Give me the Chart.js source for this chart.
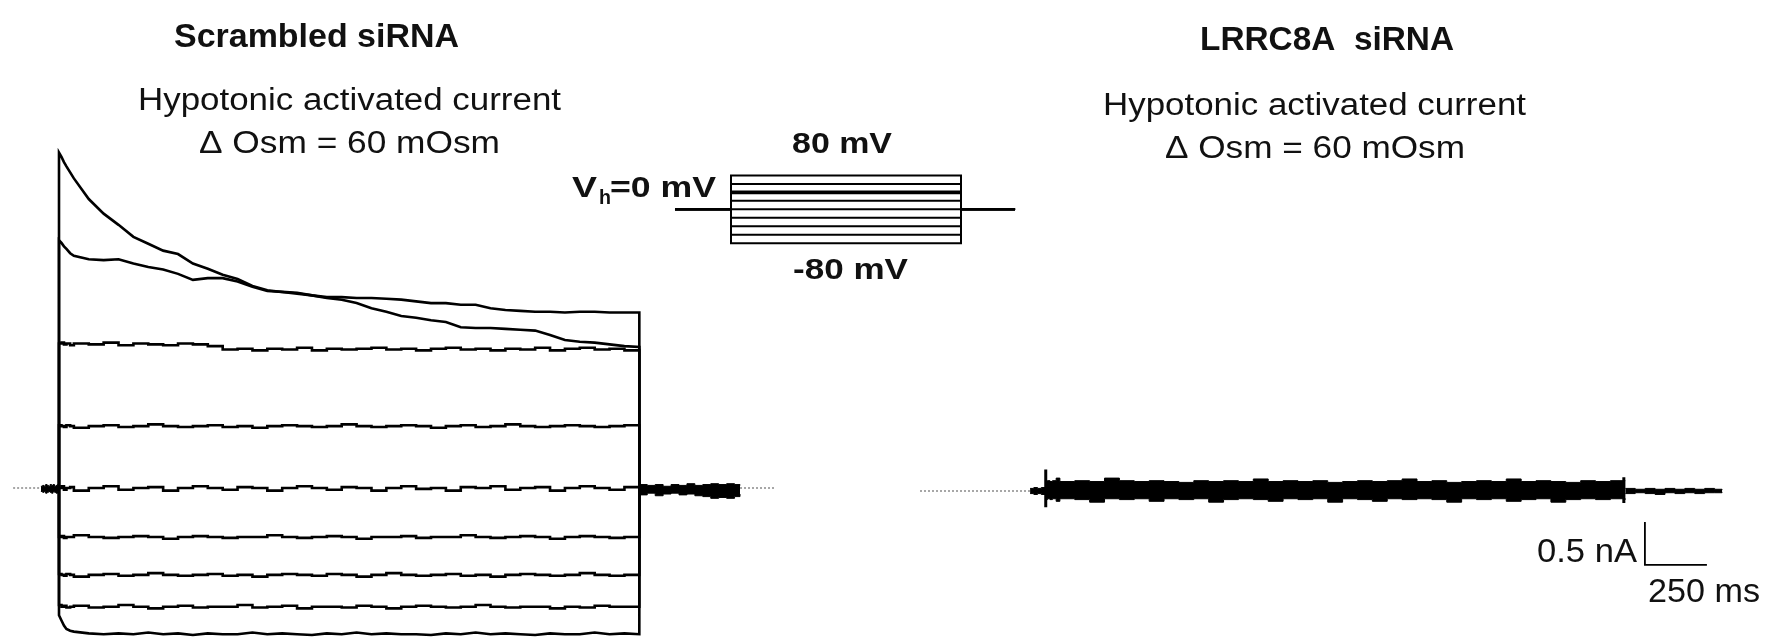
<!DOCTYPE html>
<html><head><meta charset="utf-8">
<script src="https://cdn.jsdelivr.net/npm/chart.js@4.4.1/dist/chart.umd.min.js"></script>
<style>html,body{margin:0;padding:0;background:#fff;}canvas{display:block;}</style>
</head><body><canvas id="c" width="1767" height="638"></canvas>
<script>
// ---------- DATA (time in ms, current in nA, voltage in mV) ----------
const sweepVoltages = [80, 60, 40, 20, 0, -20, -40, -60, -80];
const stepTimes = [0,10,20,30,45,60,120,180,240,300,360,420,480,540,600,660,720,780,840,900,960,1020,1080,1140,1200,1260,1320,1380,1440,1500,1560,1620,1680,1740,1800,1860,1920,1980,2040,2100,2160,2220,2280,2340];

// Scrambled siRNA sweeps
const scr80 = [3.90,3.85,3.79,3.74,3.67,3.60,3.36,3.19,3.06,2.92,2.84,2.76,2.72,2.61,2.55,2.48,2.43,2.35,2.30,2.28,2.26,2.24,2.21,2.19,2.15,2.09,2.05,2.00,1.98,1.95,1.93,1.87,1.86,1.86,1.85,1.84,1.83,1.78,1.72,1.70,1.69,1.67,1.65,1.64];
const scr60 = [2.88,2.85,2.81,2.78,2.73,2.70,2.66,2.65,2.66,2.61,2.57,2.54,2.49,2.42,2.44,2.44,2.40,2.34,2.29,2.28,2.27,2.24,2.22,2.22,2.21,2.21,2.20,2.19,2.17,2.15,2.15,2.13,2.13,2.09,2.07,2.06,2.05,2.05,2.04,2.05,2.05,2.04,2.04,2.04];
const scr40 = [1.68,1.69,1.67,1.68,1.66,1.68,1.67,1.69,1.66,1.68,1.67,1.66,1.68,1.67,1.65,1.61,1.62,1.60,1.62,1.61,1.63,1.60,1.62,1.61,1.62,1.63,1.61,1.62,1.60,1.62,1.63,1.61,1.62,1.60,1.62,1.61,1.63,1.60,1.62,1.63,1.61,1.62,1.60,1.62];
const scr20 = [0.73,0.72,0.71,0.73,0.72,0.70,0.72,0.73,0.71,0.72,0.74,0.72,0.71,0.72,0.73,0.71,0.72,0.70,0.72,0.73,0.72,0.71,0.72,0.74,0.72,0.71,0.72,0.73,0.72,0.70,0.72,0.73,0.71,0.72,0.74,0.72,0.71,0.72,0.73,0.72,0.71,0.72,0.73,0.72];
const scr0 = [0.00,0.02,-0.02,0.00,0.01,-0.03,0.00,0.02,-0.02,0.00,0.01,-0.03,0.00,0.02,0.00,-0.02,0.01,0.00,-0.03,0.00,0.02,0.00,-0.02,0.01,0.00,-0.03,0.00,0.02,-0.01,0.00,-0.03,0.01,0.00,0.02,-0.02,0.00,0.01,-0.03,0.00,0.02,0.00,-0.02,0.01,0.00];
const scrM20 = [-0.57,-0.56,-0.58,-0.57,-0.57,-0.55,-0.57,-0.58,-0.57,-0.56,-0.57,-0.59,-0.57,-0.56,-0.57,-0.58,-0.57,-0.57,-0.55,-0.57,-0.58,-0.57,-0.56,-0.57,-0.59,-0.57,-0.57,-0.56,-0.58,-0.57,-0.57,-0.55,-0.57,-0.58,-0.57,-0.56,-0.57,-0.59,-0.57,-0.56,-0.57,-0.58,-0.57,-0.57];
const scrM40 = [-1.00,-1.01,-1.02,-1.00,-1.01,-1.03,-1.01,-1.00,-1.02,-1.01,-0.99,-1.01,-1.02,-1.01,-1.00,-1.02,-1.01,-1.03,-1.01,-1.00,-1.01,-1.02,-1.00,-1.01,-1.03,-1.01,-0.99,-1.01,-1.02,-1.01,-1.00,-1.02,-1.01,-1.03,-1.01,-1.00,-1.01,-1.02,-1.01,-0.99,-1.01,-1.02,-1.01,-1.01];
const scrM60 = [-1.36,-1.38,-1.37,-1.39,-1.38,-1.37,-1.39,-1.38,-1.36,-1.38,-1.40,-1.38,-1.37,-1.39,-1.38,-1.38,-1.36,-1.39,-1.38,-1.37,-1.40,-1.38,-1.38,-1.39,-1.37,-1.38,-1.40,-1.38,-1.37,-1.38,-1.39,-1.38,-1.36,-1.38,-1.39,-1.38,-1.38,-1.40,-1.38,-1.39,-1.37,-1.38,-1.38,-1.38];
const scrM80 = [-1.48,-1.54,-1.60,-1.64,-1.66,-1.67,-1.69,-1.70,-1.69,-1.70,-1.68,-1.70,-1.69,-1.71,-1.69,-1.70,-1.70,-1.68,-1.70,-1.69,-1.70,-1.71,-1.69,-1.70,-1.68,-1.70,-1.69,-1.70,-1.70,-1.71,-1.69,-1.70,-1.68,-1.70,-1.69,-1.70,-1.71,-1.69,-1.70,-1.70,-1.68,-1.70,-1.69,-1.70];
const scrambledSweeps = [scr80, scr60, scr40, scr20, scr0, scrM20, scrM40, scrM60, scrM80];

// Scrambled: holding current before / after the step (envelope of all sweeps)
const scrPreT = [-73,-66,-60,-54,-48,-42,-36,-30,-24,-18,-12,-6,0];
const scrPreHi = [0.02,0.03,0.02,0.04,0.03,0.02,0.04,0.03,0.04,0.02,0.03,0.04,0.03];
const scrPreLo = [-0.04,-0.05,-0.04,-0.06,-0.05,-0.04,-0.05,-0.06,-0.04,-0.05,-0.06,-0.04,-0.05];
const scrPostT = [2340,2372,2404,2436,2468,2500,2532,2564,2596,2628,2660,2692,2724,2746];
const scrPostHi = [0.04,0.03,0.04,0.02,0.04,0.03,0.05,0.03,0.04,0.05,0.04,0.05,0.04,0.03];
const scrPostLo = [-0.08,-0.06,-0.09,-0.07,-0.06,-0.08,-0.07,-0.09,-0.10,-0.12,-0.11,-0.12,-0.10,-0.07];
const scrDotPre = [-185, -73];
const scrDotPost = [2746, 2887];

// LRRC8A siRNA: envelope of the nine sweeps
const kdPreT = [-60,-45,-30,-15,0];
const kdPreHi = [0.03,0.04,0.03,0.04,0.03];
const kdPreLo = [-0.03,-0.04,-0.03,-0.04,-0.03];
const kdStepHi = [0.12,0.12,0.11,0.12,0.15,0.11,0.12,0.11,0.15,0.12,0.11,0.12,0.11,0.10,0.12,0.11,0.12,0.11,0.14,0.11,0.12,0.11,0.12,0.10,0.11,0.12,0.11,0.12,0.14,0.11,0.12,0.10,0.11,0.12,0.11,0.14,0.11,0.12,0.11,0.10,0.12,0.11,0.12,0.12];
const kdStepLo = [-0.10,-0.09,-0.10,-0.09,-0.12,-0.09,-0.10,-0.13,-0.09,-0.10,-0.09,-0.12,-0.09,-0.10,-0.09,-0.13,-0.10,-0.09,-0.10,-0.12,-0.09,-0.10,-0.09,-0.13,-0.09,-0.10,-0.12,-0.09,-0.10,-0.09,-0.10,-0.13,-0.09,-0.10,-0.09,-0.12,-0.10,-0.09,-0.13,-0.10,-0.09,-0.10,-0.09,-0.10];
const kdSpikeT = [3, 2334];
const kdSpikeHi = [0.25, 0.16];
const kdSpikeLo = [-0.19, -0.14];
const kdPostT = [2340,2380,2420,2460,2500,2540,2580,2620,2660,2700,2730];
const kdPostHi = [0.03,0.02,0.03,0.02,0.03,0.02,0.03,0.02,0.03,0.02,0.01];
const kdPostLo = [-0.03,-0.02,-0.03,-0.04,-0.02,-0.03,-0.02,-0.03,-0.02,-0.02,-0.01];
const kdDotPre = [-504, -60];

// Voltage protocol (ms)
const protoTimes = [-570, 0, 2340, 2890];

// Scale bar
const barCurrent = 0.5;   // nA
const barTime = 250;      // ms

// ---------- LAYOUT ----------
const W = 1767, H = 638;
function xRange(px0, v0, ppu) { return {min: v0 - px0 / ppu, max: v0 + (W - px0) / ppu}; }
function yRange(py0, v0, ppu) { return {min: v0 - (H - py0) / ppu, max: v0 + py0 / ppu}; }
const PX_MS = 0.248, PX_NA = 86;
const sc = {
  xL: xRange(59, 0, PX_MS),
  xR: xRange(1045, 0, PX_MS),
  xP: xRange(731, 0, 230 / 2340),
  yL: yRange(488, 0, PX_NA),
  yR: yRange(491, 0, PX_NA),
  yP: yRange(209.3, 0, 0.423)
};
const barAt = {t: 2419, i: -0.86};

const ds = [];
function line(pts, xId, yId, extra) {
  ds.push(Object.assign({data: pts, xAxisID: xId, yAxisID: yId, borderColor: '#000', borderWidth: 2,
    pointRadius: 0, fill: false, tension: 0, borderJoinStyle: 'miter'}, extra || {}));
}
function envelope(ts, hi, lo, xId, yId) {
  line(ts.map((t, i) => ({x: t, y: hi[i]})), xId, yId, {fill: '+1', backgroundColor: '#000', borderWidth: 1, stepped: true});
  line(ts.map((t, i) => ({x: t, y: lo[i]})), xId, yId, {borderWidth: 1, stepped: true});
}
const dotted = {borderColor: '#8a8a8a', borderWidth: 1.5, borderDash: [2, 2]};

// Scrambled sweeps
scrambledSweeps.forEach((vals, k) => {
  const pts = [{x: 0, y: 0}];
  vals.forEach((v, i) => pts.push({x: stepTimes[i], y: v}));
  pts.push({x: stepTimes[stepTimes.length - 1], y: 0});
  line(pts, 'xL', 'yL', {borderWidth: 2.6, stepped: k >= 2 && k <= 7});
});
envelope(scrPreT, scrPreHi, scrPreLo, 'xL', 'yL');
envelope(scrPostT, scrPostHi, scrPostLo, 'xL', 'yL');
line(scrDotPre.map(t => ({x: t, y: 0})), 'xL', 'yL', dotted);
line(scrDotPost.map(t => ({x: t, y: 0})), 'xL', 'yL', dotted);

// LRRC8A
envelope(kdPreT, kdPreHi, kdPreLo, 'xR', 'yR');
envelope(stepTimes, kdStepHi, kdStepLo, 'xR', 'yR');
envelope(kdPostT, kdPostHi, kdPostLo, 'xR', 'yR');
kdSpikeT.forEach((t, i) => line([{x: t, y: kdSpikeHi[i]}, {x: t, y: kdSpikeLo[i]}], 'xR', 'yR', {borderWidth: 3}));
line(kdDotPre.map(t => ({x: t, y: 0})), 'xR', 'yR', dotted);

// Scale bar
line([{x: barAt.t, y: barAt.i + barCurrent}, {x: barAt.t, y: barAt.i}, {x: barAt.t + barTime, y: barAt.i}], 'xR', 'yR', {borderWidth: 1.8});

// Protocol
sweepVoltages.forEach(v => {
  line([{x: protoTimes[0], y: 0}, {x: protoTimes[1], y: 0}, {x: protoTimes[1], y: v}, {x: protoTimes[2], y: v},
        {x: protoTimes[2], y: 0}, {x: protoTimes[3], y: 0}], 'xP', 'yP', {borderWidth: 2});
});
// the +40 mV level appears doubled/thicker in the figure
line([{x: protoTimes[1], y: 40}, {x: protoTimes[2], y: 40}], 'xP', 'yP', {borderWidth: 3.6});

// ---------- TEXT ----------
const F = '"Liberation Sans", Arial, sans-serif';
const labels = [
  {s: 'Scrambled siRNA', x: 174, y: 47, w: 285, f: 'bold 34px ' + F},
  {s: 'Hypotonic activated current', x: 138, y: 110, w: 423, f: '31px ' + F},
  {s: 'Δ Osm = 60 mOsm', x: 199, y: 153, w: 301, f: '31px ' + F},
  {s: 'LRRC8A  siRNA', x: 1200, y: 50, w: 254, f: 'bold 34px ' + F},
  {s: 'Hypotonic activated current', x: 1103, y: 115, w: 423, f: '31px ' + F},
  {s: 'Δ Osm = 60 mOsm', x: 1165, y: 158, w: 300, f: '31px ' + F},
  {s: '80 mV', x: 792, y: 153, w: 100, f: 'bold 29px ' + F},
  {s: '-80 mV', x: 793, y: 279, w: 115, f: 'bold 29px ' + F},
  {s: 'V', x: 572, y: 197, w: 25, f: 'bold 30px ' + F},
  {s: 'h', x: 599, y: 204, w: 12, f: 'bold 20px ' + F},
  {s: '=0 mV', x: 610, y: 197, w: 106, f: 'bold 30px ' + F},
  {s: '0.5 nA', x: 1537, y: 562, w: 100, f: '33px ' + F},
  {s: '250 ms', x: 1648, y: 602, w: 112, f: '33px ' + F}
];
const textPlugin = {
  id: 'figText',
  afterDraw(chart) {
    const ctx = chart.ctx;
    ctx.save();
    ctx.fillStyle = '#111';
    ctx.textBaseline = 'alphabetic';
    ctx.textAlign = 'left';
    labels.forEach(l => {
      ctx.font = l.f;
      const m = ctx.measureText(l.s).width;
      ctx.save();
      ctx.translate(l.x, l.y);
      ctx.scale(l.w / m, 1);
      ctx.fillText(l.s, 0, 0);
      ctx.restore();
    });
    ctx.restore();
  }
};

const scales = {};
Object.keys(sc).forEach(k => {
  scales[k] = {type: 'linear', axis: k[0], display: false, min: sc[k].min, max: sc[k].max,
    position: k[0] === 'x' ? 'bottom' : 'left'};
});

new Chart(document.getElementById('c'), {
  type: 'line',
  data: {datasets: ds},
  options: {
    responsive: false, animation: false, events: [],
    layout: {padding: 0},
    plugins: {legend: {display: false}, title: {display: false}, tooltip: {enabled: false}},
    scales: scales
  },
  plugins: [textPlugin]
});
</script></body></html>
